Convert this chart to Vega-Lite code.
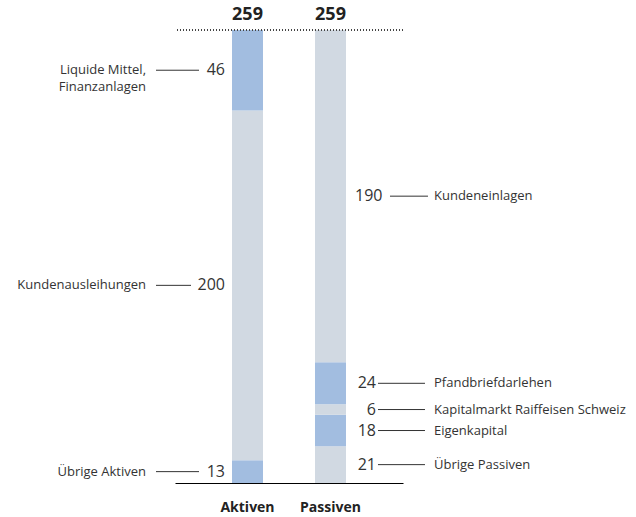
{
  "$schema": "https://vega.github.io/schema/vega-lite/v6.json",
  "width": 228,
  "height": 453,
  "autosize": {"type": "none"},
  "padding": {"left": 175, "top": 30, "right": 233, "bottom": 34},
  "background": "white",
  "config": {"view": {"stroke": null}, "font": "Open Sans"},
  "data": {
    "values": [
      {"seite": "Aktiven", "rang": 1, "posten": "Übrige Aktiven", "wert": 13, "gruppe": "A"},
      {"seite": "Aktiven", "rang": 2, "posten": "Kundenausleihungen", "wert": 200, "gruppe": "B"},
      {"seite": "Aktiven", "rang": 3, "posten": "Liquide Mittel,\nFinanzanlagen", "wert": 46, "gruppe": "A"},
      {"seite": "Passiven", "rang": 1, "posten": "Übrige Passiven", "wert": 21, "gruppe": "B"},
      {"seite": "Passiven", "rang": 2, "posten": "Eigenkapital", "wert": 18, "gruppe": "A"},
      {"seite": "Passiven", "rang": 3, "posten": "Kapitalmarkt Raiffeisen Schweiz", "wert": 6, "gruppe": "B"},
      {"seite": "Passiven", "rang": 4, "posten": "Pfandbriefdarlehen", "wert": 24, "gruppe": "A"},
      {"seite": "Passiven", "rang": 5, "posten": "Kundeneinlagen", "wert": 190, "gruppe": "B"}
    ]
  },
  "transform": [
    {"stack": "wert", "groupby": ["seite"], "sort": [{"field": "rang", "order": "ascending"}], "as": ["y0", "y1"]},
    {"calculate": "(datum.y0 + datum.y1) / 2", "as": "mitte"}
  ],
  "resolve": {"scale": {"y": "shared", "x": "shared"}},
  "layer": [
    {
      "mark": {"type": "bar"},
      "encoding": {
        "x": {
          "field": "seite", "type": "nominal",
          "scale": {"domain": ["Aktiven", "Passiven"], "paddingInner": 0.6265, "paddingOuter": 0.687},
          "axis": {
            "title": null, "orient": "bottom", "domainColor": "#000000", "domainWidth": 1,
            "ticks": false, "tickSize": 0, "labelPadding": 24, "labelFontSize": 14,
            "labelFontWeight": "bold", "labelColor": "#222222", "labelAngle": 0, "labelBaseline": "middle"
          }
        },
        "y": {"field": "y0", "type": "quantitative", "scale": {"domain": [0, 259], "nice": false}, "axis": null},
        "y2": {"field": "y1"},
        "color": {"field": "gruppe", "type": "nominal", "scale": {"domain": ["A", "B"], "range": ["#a2bde0", "#d1d9e2"]}, "legend": null}
      }
    },
    {
      "mark": {"type": "rule", "strokeDash": [1, 2], "color": "#444444", "strokeWidth": 1},
      "encoding": {"y": {"datum": 259, "type": "quantitative"}}
    },
    {
      "transform": [{"aggregate": [{"op": "sum", "field": "wert", "as": "summe"}], "groupby": ["seite"]}],
      "mark": {"type": "text", "fontSize": 18, "fontWeight": "bold", "baseline": "middle", "dy": -15, "color": "#222222"},
      "encoding": {
        "x": {"field": "seite", "type": "nominal"},
        "y": {"field": "summe", "type": "quantitative"},
        "text": {"field": "summe"}
      }
    },
    {
      "transform": [{"filter": "datum.seite === 'Aktiven'"}],
      "mark": {"type": "text", "align": "right", "baseline": "middle", "fontSize": 13, "xOffset": -86, "lineBreak": "\n", "lineHeight": 17, "color": "#333333"},
      "encoding": {
        "x": {"field": "seite", "type": "nominal", "bandPosition": 0},
        "y": {"field": "mitte", "type": "quantitative"},
        "text": {"field": "posten"}
      }
    },
    {
      "transform": [{"filter": "datum.seite === 'Aktiven'"}],
      "mark": {"type": "text", "align": "right", "baseline": "middle", "fontSize": 16, "xOffset": -7, "color": "#333333"},
      "encoding": {
        "x": {"field": "seite", "type": "nominal", "bandPosition": 0},
        "y": {"field": "mitte", "type": "quantitative"},
        "text": {"field": "wert"}
      }
    },
    {
      "transform": [{"filter": "datum.seite === 'Aktiven' && datum.wert < 100"}],
      "mark": {"type": "rule", "color": "#333333", "strokeWidth": 1, "xOffset": -76, "x2Offset": -33},
      "encoding": {
        "x": {"field": "seite", "type": "nominal", "bandPosition": 0},
        "x2": {"field": "seite", "bandPosition": 0},
        "y": {"field": "mitte", "type": "quantitative"}
      }
    },
    {
      "transform": [{"filter": "datum.seite === 'Aktiven' && datum.wert >= 100"}],
      "mark": {"type": "rule", "color": "#333333", "strokeWidth": 1, "xOffset": -76, "x2Offset": -41},
      "encoding": {
        "x": {"field": "seite", "type": "nominal", "bandPosition": 0},
        "x2": {"field": "seite", "bandPosition": 0},
        "y": {"field": "mitte", "type": "quantitative"}
      }
    },
    {
      "transform": [{"filter": "datum.seite === 'Passiven' && datum.wert < 100"}],
      "mark": {"type": "text", "align": "right", "baseline": "middle", "fontSize": 16, "xOffset": 30, "color": "#333333"},
      "encoding": {
        "x": {"field": "seite", "type": "nominal", "bandPosition": 1},
        "y": {"field": "mitte", "type": "quantitative"},
        "text": {"field": "wert"}
      }
    },
    {
      "transform": [{"filter": "datum.seite === 'Passiven' && datum.wert >= 100"}],
      "mark": {"type": "text", "align": "left", "baseline": "middle", "fontSize": 16, "xOffset": 9, "color": "#333333"},
      "encoding": {
        "x": {"field": "seite", "type": "nominal", "bandPosition": 1},
        "y": {"field": "mitte", "type": "quantitative"},
        "text": {"field": "wert"}
      }
    },
    {
      "transform": [{"filter": "datum.seite === 'Passiven' && datum.wert < 100"}],
      "mark": {"type": "rule", "color": "#333333", "strokeWidth": 1, "xOffset": 32, "x2Offset": 79},
      "encoding": {
        "x": {"field": "seite", "type": "nominal", "bandPosition": 1},
        "x2": {"field": "seite", "bandPosition": 1},
        "y": {"field": "mitte", "type": "quantitative"}
      }
    },
    {
      "transform": [{"filter": "datum.seite === 'Passiven' && datum.wert >= 100"}],
      "mark": {"type": "rule", "color": "#333333", "strokeWidth": 1, "xOffset": 44, "x2Offset": 82},
      "encoding": {
        "x": {"field": "seite", "type": "nominal", "bandPosition": 1},
        "x2": {"field": "seite", "bandPosition": 1},
        "y": {"field": "mitte", "type": "quantitative"}
      }
    },
    {
      "transform": [{"filter": "datum.seite === 'Passiven'"}],
      "mark": {"type": "text", "align": "left", "baseline": "middle", "fontSize": 13, "xOffset": 88, "color": "#333333"},
      "encoding": {
        "x": {"field": "seite", "type": "nominal", "bandPosition": 1},
        "y": {"field": "mitte", "type": "quantitative"},
        "text": {"field": "posten"}
      }
    }
  ]
}
